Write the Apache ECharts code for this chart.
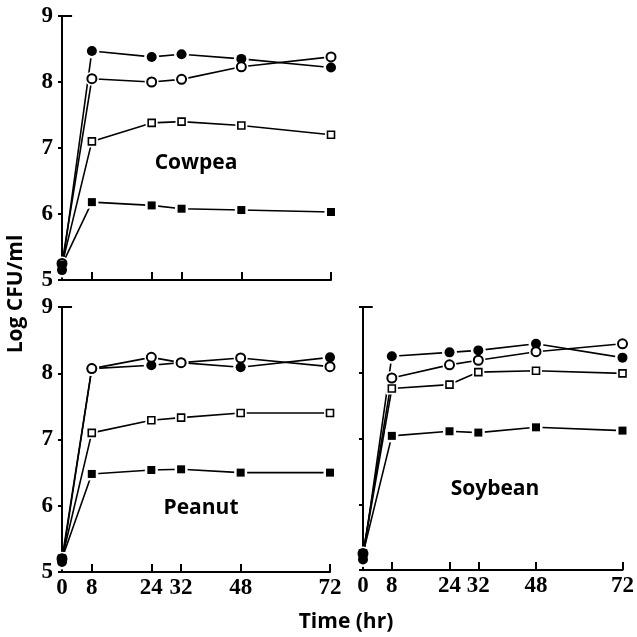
<!DOCTYPE html>
<html>
<head>
<meta charset="utf-8">
<script src="https://cdn.jsdelivr.net/npm/echarts@6/dist/echarts.min.js"></script>
<style>html,body{margin:0;padding:0;background:#fff}#c{width:637px;height:637px}</style>
</head>
<body>
<div id="c"></div>
<script>
// ---- data ----
const timeHr = [0, 8, 24, 32, 48, 72];
const xTickLabels = [0, 8, 24, 32, 48, 72];
const yTickLabels = [5, 6, 7, 8, 9];
const panelNames = ['Cowpea', 'Peanut', 'Soybean'];

const cowpeaFilledCircle = [5.15, 8.47, 8.38, 8.42, 8.35, 8.22];
const cowpeaOpenCircle   = [5.25, 8.05, 8.00, 8.04, 8.23, 8.38];
const cowpeaOpenSquare   = [5.23, 7.10, 7.38, 7.40, 7.34, 7.20];
const cowpeaFilledSquare = [5.23, 6.18, 6.13, 6.08, 6.06, 6.03];

const peanutFilledCircle = [5.15, 8.07, 8.12, 8.16, 8.09, 8.24];
const peanutOpenCircle   = [5.20, 8.07, 8.24, 8.16, 8.23, 8.10];
const peanutOpenSquare   = [5.20, 7.10, 7.29, 7.33, 7.40, 7.40];
const peanutFilledSquare = [5.20, 6.48, 6.54, 6.55, 6.50, 6.50];

const soybeanFilledCircle = [5.16, 8.25, 8.31, 8.34, 8.44, 8.23];
const soybeanOpenCircle   = [5.25, 7.92, 8.12, 8.19, 8.32, 8.44];
const soybeanOpenSquare   = [5.25, 7.76, 7.82, 8.01, 8.03, 7.99];
const soybeanFilledSquare = [5.25, 7.04, 7.11, 7.09, 7.17, 7.12];

const panels = [
  [cowpeaFilledCircle, cowpeaOpenCircle, cowpeaOpenSquare, cowpeaFilledSquare],
  [peanutFilledCircle, peanutOpenCircle, peanutOpenSquare, peanutFilledSquare],
  [soybeanFilledCircle, soybeanOpenCircle, soybeanOpenSquare, soybeanFilledSquare]
];

// ---- styles ----
const markerStyles = [
  {symbol: 'circle', size: 10, fill: '#000', border: 0},
  {symbol: 'circle', size: 9, fill: '#fff', border: 2},
  {symbol: 'rect', size: 7, fill: '#fff', border: 1.6},
  {symbol: 'rect', size: 8, fill: '#000', border: 0}
];
const tickFont = {fontFamily: 'Liberation Serif', fontWeight: 'bold', fontSize: 23, color: '#000'};
const grids = [
  {left: 62, top: 16, width: 269, height: 264},
  {left: 62, top: 307, width: 268, height: 265},
  {left: 363, top: 307, width: 270, height: 263}
];

const xAxes = [], yAxes = [], series = [];
grids.forEach((g, i) => {
  const showX = i > 0;
  const showY = i < 2;
  xAxes.push({
    type: 'value', gridIndex: i, min: 0, max: 72,
    axisLine: {show: true, onZero: false, lineStyle: {color: '#000', width: 2}},
    axisTick: {show: true, inside: true, length: 8, customValues: [8, 24, 32, 48, 72], lineStyle: {color: '#000', width: 2}},
    axisLabel: Object.assign({show: showX, margin: 5, customValues: xTickLabels}, tickFont),
    splitLine: {show: false}
  });
  yAxes.push({
    type: 'value', gridIndex: i, min: 5, max: 9, interval: 1,
    axisLine: {show: true, onZero: false, lineStyle: {color: '#000', width: 2}},
    axisTick: {show: true, inside: false, length: 4, lineStyle: {color: '#000', width: 2}},
    axisLabel: Object.assign({show: showY, margin: 9}, tickFont),
    splitLine: {show: false}
  });
  panels[i].forEach((vals, k) => {
    const m = markerStyles[k];
    const pts = timeHr.map((t, j) => [t, vals[j]]);
    const lineSeries = {
      type: 'line', xAxisIndex: i, yAxisIndex: i, data: pts, z: 2,
      showSymbol: false, lineStyle: {color: '#000', width: 1.6}
    };
    if (k === 0) {
      // small inward tick at the top of the y axis
      lineSeries.markLine = {
        symbol: 'none', silent: true, animation: false, label: {show: false},
        lineStyle: {color: '#000', width: 2, type: 'solid'},
        data: [[{coord: [0, 9]}, {coord: [2.7, 9]}]]
      };
    }
    series.push(lineSeries);
    series.push({
      type: 'scatter', xAxisIndex: i, yAxisIndex: i, data: pts, z: 3,
      symbol: m.symbol, symbolSize: m.size + 5,
      itemStyle: {color: '#fff', opacity: 1}
    });
    series.push({
      type: 'scatter', xAxisIndex: i, yAxisIndex: i, data: pts, z: 4,
      symbol: m.symbol, symbolSize: m.size,
      itemStyle: {color: m.fill, borderColor: '#000', borderWidth: m.border, opacity: 1}
    });
  });
});

const labelFont = 'bold 21px "Open Sans"';
const chart = echarts.init(document.getElementById('c'), null, {renderer: 'canvas'});
chart.setOption({
  animation: false,
  backgroundColor: '#fff',
  grid: grids,
  xAxis: xAxes,
  yAxis: yAxes,
  series: series,
  graphic: [
    {type: 'text', x: 196, y: 163, style: {text: panelNames[0], font: labelFont, fill: '#000', align: 'center', verticalAlign: 'middle'}},
    {type: 'text', x: 201, y: 508, style: {text: panelNames[1], font: labelFont, fill: '#000', align: 'center', verticalAlign: 'middle'}},
    {type: 'text', x: 495, y: 489, style: {text: panelNames[2], font: labelFont, fill: '#000', align: 'center', verticalAlign: 'middle'}},
    {type: 'text', x: 346, y: 622, style: {text: 'Time (hr)', font: labelFont, fill: '#000', align: 'center', verticalAlign: 'middle'}},
    {type: 'text', x: 16, y: 294, rotation: Math.PI / 2, style: {text: 'Log CFU/ml', font: labelFont, fill: '#000', align: 'center', verticalAlign: 'middle'}}
  ]
});
</script>
</body>
</html>
